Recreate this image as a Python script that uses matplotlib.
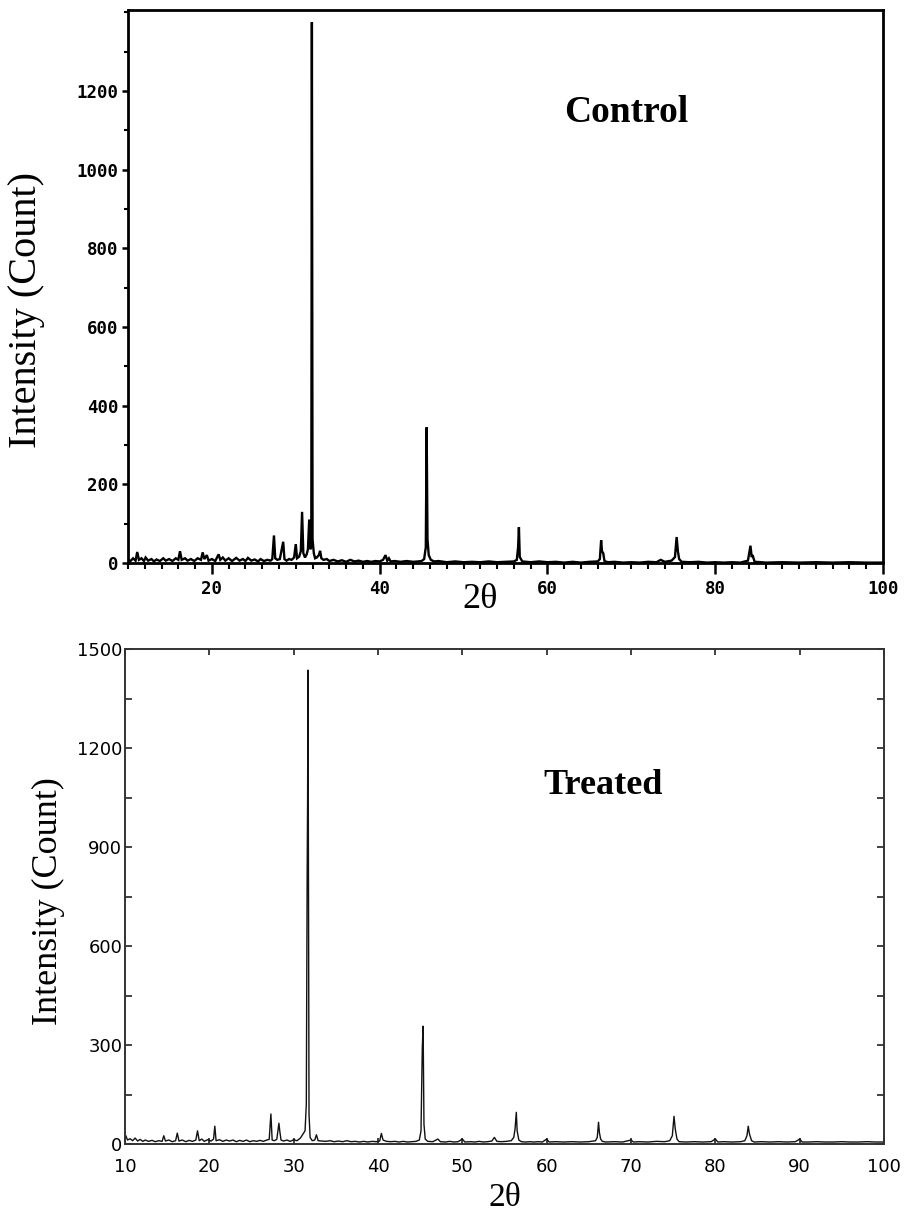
import matplotlib
matplotlib.use("Agg")
import matplotlib.pyplot as plt
from matplotlib.ticker import MultipleLocator, FixedLocator

# ---------------- Data (vertices) ----------------
control_2theta = [10.0, 10.3, 10.6, 10.9, 11.1, 11.3, 11.6, 11.9, 12.1, 12.4, 12.8, 13.1, 13.4, 13.8,
                  14.2, 14.5, 14.9, 15.3, 15.7, 16.0, 16.2, 16.4, 16.8, 17.1, 17.5, 17.9, 18.3, 18.7,
                  18.9, 19.1, 19.4, 19.6, 20.0, 20.4, 20.8, 21.0, 21.3, 21.6, 22.0, 22.4, 22.9, 23.3,
                  23.7, 24.0, 24.3, 24.7, 25.1, 25.5, 25.8, 26.2, 26.6, 27.0, 27.2, 27.4, 27.55, 27.8,
                  28.1, 28.5, 28.65, 28.9, 29.2, 29.5, 29.8, 30.0, 30.15, 30.4, 30.6, 30.75, 30.9, 31.1,
                  31.3, 31.45, 31.6, 31.72, 31.85, 31.92, 32.0, 32.15, 32.3, 32.5, 32.75, 32.9, 33.05,
                  33.3, 33.7, 34.0, 34.5, 35.0, 35.5, 36.0, 36.5, 37.0, 37.5, 38.0, 38.5, 39.0, 39.5,
                  40.0, 40.4, 40.7, 40.9, 41.1, 41.3, 41.8, 42.5, 43.2, 44.0, 44.6, 45.0, 45.3, 45.5,
                  45.6, 45.7, 45.85, 46.1, 46.5, 47.0, 48.0, 49.0, 50.0, 51.0, 52.0, 53.0, 54.0, 55.0,
                  56.0, 56.35, 56.5, 56.6, 56.7, 57.0, 58.0, 59.0, 60.0, 61.0, 62.0, 63.0, 64.0, 65.0,
                  66.0, 66.25, 66.4, 66.5, 66.65, 66.8, 67.2, 68.0, 69.0, 70.0, 71.0, 72.0, 73.0, 73.5,
                  74.0, 74.8, 75.2, 75.4, 75.55, 75.7, 76.0, 77.0, 78.0, 79.0, 80.0, 81.0, 82.0, 83.0,
                  83.9, 84.2, 84.35, 84.45, 84.7, 85.5, 86.0, 88.0, 90.0, 92.0, 94.0, 96.0, 98.0, 100.0]
control_counts = [8, 5, 12, 6, 28, 8, 12, 5, 14, 6, 10, 4, 9, 5,
                  12, 6, 10, 5, 12, 8, 30, 8, 12, 6, 10, 5, 12, 8,
                  27, 10, 20, 6, 10, 5, 22, 8, 14, 6, 12, 5, 13, 6,
                  10, 5, 13, 6, 9, 4, 10, 5, 8, 6, 10, 70, 12, 8,
                  10, 54, 10, 6, 10, 8, 14, 48, 12, 16, 30, 130, 25, 14,
                  22, 35, 110, 35, 40, 1375, 60, 25, 12, 14, 20, 31, 12,
                  8, 10, 5, 8, 4, 7, 3, 8, 4, 6, 3, 5, 3, 5,
                  4, 8, 20, 6, 12, 4, 5, 3, 5, 3, 4, 5, 10, 40,
                  345, 60, 20, 8, 4, 5, 2, 4, 2, 3, 2, 4, 2, 3,
                  4, 8, 40, 91, 15, 4, 2, 4, 2, 3, 1, 3, 1, 3,
                  4, 10, 58, 30, 25, 5, 2, 3, 1, 2, 1, 3, 2, 8,
                  3, 6, 15, 66, 30, 10, 3, 2, 3, 1, 2, 1, 2, 1,
                  6, 44, 15, 20, 3, 2, 1, 2, 1, 2, 1, 2, 1, 1]

treated_2theta = [10.0, 10.1, 10.3, 10.6, 10.9, 11.2, 11.5, 11.8, 12.1, 12.4, 12.8, 13.2, 13.6, 14.0,
                  14.4, 14.6, 14.8, 15.2, 15.6, 16.0, 16.2, 16.4, 16.8, 17.2, 17.6, 18.0, 18.4, 18.6,
                  18.8, 19.1, 19.4, 19.8, 20.2, 20.5, 20.65, 20.8, 21.2, 21.6, 22.0, 22.4, 22.8, 23.2,
                  23.6, 24.0, 24.4, 24.8, 25.2, 25.6, 26.0, 26.4, 26.8, 27.1, 27.3, 27.45, 27.7, 28.0,
                  28.25, 28.35, 28.5, 28.8, 29.2, 29.6, 30.0, 30.4, 30.8, 31.1, 31.35, 31.5, 31.6, 31.65,
                  31.7, 31.75, 31.82, 31.95, 32.2, 32.5, 32.7, 32.9, 33.3, 33.8, 34.3, 34.8, 35.3, 35.8,
                  36.3, 36.8, 37.3, 37.8, 38.3, 38.8, 39.3, 39.8, 40.2, 40.4, 40.6, 41.0, 41.5, 42.0,
                  42.5, 43.0, 43.5, 44.0, 44.5, 44.9, 45.1, 45.25, 45.35, 45.45, 45.6, 45.9, 46.5, 47.1,
                  47.4, 48.0, 48.5, 49.0, 49.5, 50.0, 50.3, 51.0, 51.5, 52.0, 52.5, 53.0, 53.5, 53.8,
                  54.1, 54.6, 55.2, 55.8, 56.1, 56.25, 56.4, 56.5, 56.7, 57.0, 57.5, 58.0, 58.5, 59.0,
                  59.5, 60.0, 60.3, 61.0, 62.0, 63.0, 64.0, 65.0, 65.8, 66.0, 66.15, 66.25, 66.4, 66.6,
                  67.0, 68.0, 69.0, 70.0, 70.3, 71.0, 72.0, 73.0, 74.0, 74.6, 74.9, 75.1, 75.25, 75.45,
                  75.7, 76.5, 77.5, 78.5, 79.5, 80.0, 80.3, 81.0, 82.0, 83.0, 83.5, 83.75, 83.9, 84.05,
                  84.3, 84.6, 85.5, 86.5, 87.5, 88.5, 89.5, 90.0, 90.3, 91.0, 92.0, 93.0, 94.0, 95.0,
                  96.0, 97.0, 98.0, 99.0, 100.0]
treated_counts = [15, 25, 12, 16, 10, 18, 9, 14, 8, 12, 8, 11, 7, 10,
                  8, 25, 9, 12, 7, 10, 33, 9, 12, 7, 11, 8, 12, 40,
                  10, 15, 8, 13, 9, 15, 54, 10, 13, 8, 12, 9, 12, 7,
                  11, 8, 12, 7, 10, 8, 11, 8, 12, 14, 91, 12, 10, 14,
                  63, 40, 12, 9, 12, 8, 13, 10, 18, 30, 40, 120, 816, 1036,
                  1436, 820, 90, 20, 10, 12, 28, 10, 9, 8, 10, 7, 9, 7,
                  10, 7, 8, 6, 8, 6, 8, 7, 9, 32, 12, 8, 7, 8,
                  6, 8, 6, 7, 8, 12, 40, 290, 357, 60, 15, 8, 7, 15,
                  7, 6, 8, 6, 7, 15, 6, 7, 6, 8, 6, 7, 9, 20,
                  8, 7, 8, 10, 20, 45, 96, 40, 12, 7, 6, 7, 6, 7,
                  6, 15, 6, 7, 6, 7, 6, 7, 10, 20, 66, 35, 15, 8,
                  6, 7, 6, 12, 6, 7, 6, 8, 7, 10, 25, 84, 45, 15,
                  7, 6, 7, 6, 7, 15, 6, 7, 6, 7, 10, 25, 54, 30,
                  10, 6, 7, 6, 7, 6, 7, 15, 6, 6, 7, 6, 6, 7,
                  6, 6, 7, 6, 6]

control_yticks = [0, 200, 400, 600, 800, 1000, 1200]
control_xticks = [20, 40, 60, 80, 100]
treated_yticks = [0, 300, 600, 900, 1200, 1500]
treated_xticks = [10, 20, 30, 40, 50, 60, 70, 80, 90, 100]

# ---------------- Figure ----------------
W, H = 912, 1211
fig = plt.figure(figsize=(W / 100, H / 100), dpi=100)
serif = ["Liberation Serif", "DejaVu Serif"]

def box(l, t, r, b):
    return [l / W, 1 - b / H, (r - l) / W, (b - t) / H]

# ---- Control (top) ----
ax1 = fig.add_axes(box(128, 10, 883, 563))
ax1.plot(control_2theta, control_counts, color="black", lw=1.7, solid_joinstyle="miter")
ax1.set_xlim(10, 100)
ax1.set_ylim(0, 1406)
for s in ax1.spines.values():
    s.set_linewidth(2.0)
ax1.xaxis.set_major_locator(FixedLocator(control_xticks))
ax1.xaxis.set_minor_locator(MultipleLocator(2))
ax1.yaxis.set_major_locator(FixedLocator(control_yticks))
ax1.yaxis.set_minor_locator(MultipleLocator(100))
ax1.tick_params(axis="x", which="major", direction="out", length=8, width=1.8, pad=4)
ax1.tick_params(axis="x", which="minor", direction="out", length=4, width=1.5)
ax1.tick_params(axis="y", which="major", direction="out", length=4, width=1.8, pad=3)
ax1.tick_params(axis="y", which="minor", direction="out", length=3, width=1.5)
for lab in ax1.get_xticklabels() + ax1.get_yticklabels():
    lab.set_fontfamily("DejaVu Sans Mono")
    lab.set_fontweight("bold")
    lab.set_fontsize(12.5)
ax1.set_ylabel("Intensity (Count)", family=serif, fontsize=29, va="center")
ax1.yaxis.set_label_coords(-0.134, 0.457)
ax1.set_xlabel("2θ", family=serif, fontsize=26, va="center")
ax1.xaxis.set_label_coords(0.466, -0.066)
ax1.text(0.66, 0.815, "Control", transform=ax1.transAxes, family=serif,
         fontweight="bold", fontsize=27, ha="center", va="center")

# ---- Treated (bottom) ----
ax2 = fig.add_axes(box(125, 649, 884, 1144))
ax2.plot(treated_2theta, treated_counts, color="#111111", lw=1.0)
ax2.set_xlim(10, 100)
ax2.set_ylim(0, 1500)
for s in ax2.spines.values():
    s.set_linewidth(1.4)
    s.set_color("#333333")
ax2.xaxis.set_major_locator(FixedLocator(treated_xticks))
ax2.yaxis.set_major_locator(FixedLocator(treated_yticks))
ax2.yaxis.set_minor_locator(MultipleLocator(150))
ax2.tick_params(axis="both", which="both", direction="in", top=True, right=True,
                width=1.3, color="#333333")
ax2.tick_params(axis="x", which="major", length=4, pad=10, labelsize=13)
ax2.tick_params(axis="y", which="major", length=5, pad=2, labelsize=13)
ax2.tick_params(axis="y", which="minor", length=5)
ax2.set_ylabel("Intensity (Count)", family=serif, fontsize=26, va="center")
ax2.yaxis.set_label_coords(-0.101, 0.49)
ax2.set_xlabel("2θ", family=serif, fontsize=24, va="center")
ax2.xaxis.set_label_coords(0.5, -0.109)
ax2.text(0.63, 0.725, "Treated", transform=ax2.transAxes, family=serif,
         fontweight="bold", fontsize=26, ha="center", va="center")

fig.savefig("out.png", dpi=100)
